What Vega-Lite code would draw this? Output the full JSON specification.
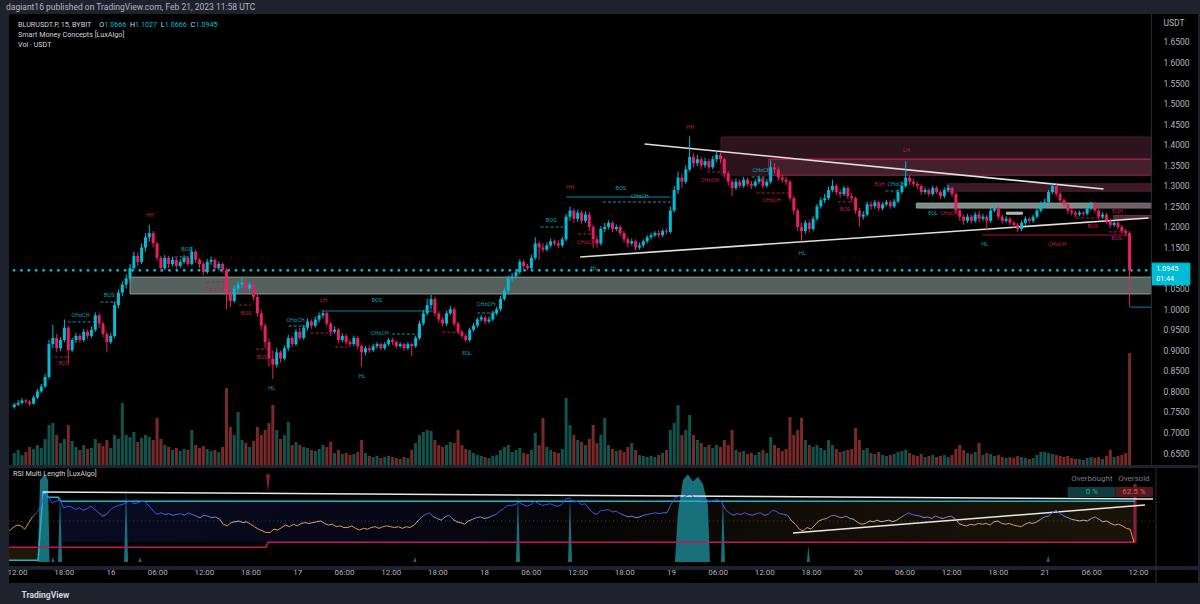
{
"$schema":"https://vega.github.io/schema/vega-lite/v6.json",
"background":"#1e222d",
"padding":{"left":6,"right":5,"top":3,"bottom":7},
"spacing":1,
"title":{"text":"dagiant16 published on TradingView.com, Feb 21, 2023 11:58 UTC","anchor":"start","fontSize":8.5,"fontWeight":"normal","color":"#b2b5be","font":"Roboto","offset":2},
"config":{"view":{"fill":"#000000","stroke":null},"font":"Roboto","axis":{"domain":false,"ticks":false,"grid":false,"labelColor":"#b2b5be","labelFont":"Roboto","labelFontSize":8.5,"titleColor":"#b2b5be","titleFont":"Roboto","titleFontSize":8.5,"titleFontWeight":"normal"}},
"resolve":{"scale":{"color":"independent","stroke":"independent","strokeDash":"independent"}},
"datasets":{
"c":[
{"t":"2023-02-15T11:00","o":0.762,"h":0.772,"l":0.758,"c":0.768,"q":120,"v":38},
{"t":"2023-02-15T11:30","o":0.768,"h":0.779,"l":0.764,"c":0.772,"q":150,"v":42},
{"t":"2023-02-15T12:00","o":0.772,"h":0.784,"l":0.768,"c":0.778,"q":100,"v":45},
{"t":"2023-02-15T12:30","o":0.778,"h":0.782,"l":0.770,"c":0.775,"q":130,"v":44},
{"t":"2023-02-15T13:00","o":0.775,"h":0.779,"l":0.764,"c":0.770,"q":180,"v":40},
{"t":"2023-02-15T13:30","o":0.770,"h":0.790,"l":0.768,"c":0.785,"q":160,"v":48},
{"t":"2023-02-15T14:00","o":0.785,"h":0.806,"l":0.781,"c":0.800,"q":200,"v":55},
{"t":"2023-02-15T14:30","o":0.800,"h":0.818,"l":0.796,"c":0.812,"q":170,"v":60},
{"t":"2023-02-15T15:00","o":0.812,"h":0.842,"l":0.808,"c":0.835,"q":260,"v":66},
{"t":"2023-02-15T15:30","o":0.835,"h":0.925,"l":0.830,"c":0.915,"q":400,"v":82},
{"t":"2023-02-15T16:00","o":0.915,"h":0.962,"l":0.905,"c":0.930,"q":420,"v":80},
{"t":"2023-02-15T16:30","o":0.930,"h":0.940,"l":0.895,"c":0.905,"q":300,"v":72},
{"t":"2023-02-15T17:00","o":0.905,"h":0.932,"l":0.898,"c":0.925,"q":220,"v":74},
{"t":"2023-02-15T17:30","o":0.925,"h":0.975,"l":0.920,"c":0.955,"q":260,"v":76},
{"t":"2023-02-15T18:00","o":0.955,"h":0.960,"l":0.870,"c":0.900,"q":400,"v":66},
{"t":"2023-02-15T18:30","o":0.900,"h":0.930,"l":0.895,"c":0.925,"q":240,"v":68},
{"t":"2023-02-15T19:00","o":0.925,"h":0.942,"l":0.918,"c":0.935,"q":180,"v":67},
{"t":"2023-02-15T19:30","o":0.935,"h":0.940,"l":0.918,"c":0.925,"q":150,"v":64},
{"t":"2023-02-15T20:00","o":0.925,"h":0.952,"l":0.920,"c":0.945,"q":200,"v":66},
{"t":"2023-02-15T20:30","o":0.945,"h":0.950,"l":0.928,"c":0.935,"q":160,"v":63},
{"t":"2023-02-15T21:00","o":0.935,"h":0.958,"l":0.930,"c":0.950,"q":170,"v":65},
{"t":"2023-02-15T21:30","o":0.950,"h":0.992,"l":0.945,"c":0.985,"q":260,"v":68},
{"t":"2023-02-15T22:00","o":0.985,"h":0.990,"l":0.955,"c":0.965,"q":220,"v":64},
{"t":"2023-02-15T22:30","o":0.965,"h":0.970,"l":0.932,"c":0.940,"q":190,"v":60},
{"t":"2023-02-15T23:00","o":0.940,"h":0.945,"l":0.895,"c":0.920,"q":250,"v":56},
{"t":"2023-02-15T23:30","o":0.920,"h":0.942,"l":0.915,"c":0.935,"q":170,"v":58},
{"t":"2023-02-16T00:00","o":0.935,"h":1.018,"l":0.930,"c":1.010,"q":300,"v":64},
{"t":"2023-02-16T00:30","o":1.010,"h":1.048,"l":1.002,"c":1.040,"q":260,"v":67},
{"t":"2023-02-16T01:00","o":1.040,"h":1.068,"l":1.032,"c":1.060,"q":620,"v":69},
{"t":"2023-02-16T01:30","o":1.060,"h":1.085,"l":1.050,"c":1.075,"q":300,"v":70},
{"t":"2023-02-16T02:00","o":1.075,"h":1.110,"l":1.068,"c":1.100,"q":280,"v":72},
{"t":"2023-02-16T02:30","o":1.100,"h":1.140,"l":1.095,"c":1.130,"q":330,"v":75},
{"t":"2023-02-16T03:00","o":1.130,"h":1.138,"l":1.105,"c":1.115,"q":230,"v":71},
{"t":"2023-02-16T03:30","o":1.115,"h":1.160,"l":1.110,"c":1.150,"q":270,"v":72},
{"t":"2023-02-16T04:00","o":1.150,"h":1.185,"l":1.140,"c":1.175,"q":300,"v":74},
{"t":"2023-02-16T04:30","o":1.175,"h":1.205,"l":1.165,"c":1.185,"q":280,"v":73},
{"t":"2023-02-16T05:00","o":1.185,"h":1.190,"l":1.150,"c":1.160,"q":250,"v":68},
{"t":"2023-02-16T05:30","o":1.160,"h":1.165,"l":1.118,"c":1.125,"q":470,"v":62},
{"t":"2023-02-16T06:00","o":1.125,"h":1.130,"l":1.090,"c":1.100,"q":260,"v":58},
{"t":"2023-02-16T06:30","o":1.100,"h":1.132,"l":1.095,"c":1.125,"q":200,"v":60},
{"t":"2023-02-16T07:00","o":1.125,"h":1.130,"l":1.100,"c":1.110,"q":180,"v":58},
{"t":"2023-02-16T07:30","o":1.110,"h":1.128,"l":1.104,"c":1.120,"q":150,"v":59},
{"t":"2023-02-16T08:00","o":1.120,"h":1.125,"l":1.098,"c":1.105,"q":170,"v":57},
{"t":"2023-02-16T08:30","o":1.105,"h":1.122,"l":1.100,"c":1.115,"q":140,"v":58},
{"t":"2023-02-16T09:00","o":1.115,"h":1.132,"l":1.110,"c":1.125,"q":160,"v":59},
{"t":"2023-02-16T09:30","o":1.125,"h":1.130,"l":1.104,"c":1.110,"q":150,"v":57},
{"t":"2023-02-16T10:00","o":1.110,"h":1.152,"l":1.106,"c":1.140,"q":350,"v":60},
{"t":"2023-02-16T10:30","o":1.140,"h":1.145,"l":1.112,"c":1.120,"q":200,"v":58},
{"t":"2023-02-16T11:00","o":1.120,"h":1.124,"l":1.100,"c":1.110,"q":170,"v":56},
{"t":"2023-02-16T11:30","o":1.110,"h":1.115,"l":1.082,"c":1.090,"q":190,"v":54},
{"t":"2023-02-16T12:00","o":1.090,"h":1.122,"l":1.086,"c":1.115,"q":160,"v":57},
{"t":"2023-02-16T12:30","o":1.115,"h":1.128,"l":1.108,"c":1.120,"q":140,"v":56},
{"t":"2023-02-16T13:00","o":1.120,"h":1.125,"l":1.094,"c":1.100,"q":150,"v":54},
{"t":"2023-02-16T13:30","o":1.100,"h":1.116,"l":1.095,"c":1.110,"q":130,"v":55},
{"t":"2023-02-16T14:00","o":1.110,"h":1.114,"l":1.088,"c":1.095,"q":180,"v":52},
{"t":"2023-02-16T14:30","o":1.095,"h":1.100,"l":1.000,"c":1.040,"q":770,"v":46},
{"t":"2023-02-16T15:00","o":1.040,"h":1.048,"l":1.005,"c":1.020,"q":380,"v":44},
{"t":"2023-02-16T15:30","o":1.020,"h":1.058,"l":1.015,"c":1.050,"q":300,"v":48},
{"t":"2023-02-16T16:00","o":1.050,"h":1.068,"l":1.040,"c":1.060,"q":530,"v":49},
{"t":"2023-02-16T16:30","o":1.060,"h":1.075,"l":1.052,"c":1.065,"q":250,"v":50},
{"t":"2023-02-16T17:00","o":1.065,"h":1.070,"l":1.042,"c":1.050,"q":220,"v":48},
{"t":"2023-02-16T17:30","o":1.050,"h":1.066,"l":1.044,"c":1.060,"q":180,"v":49},
{"t":"2023-02-16T18:00","o":1.060,"h":1.064,"l":1.022,"c":1.030,"q":240,"v":46},
{"t":"2023-02-16T18:30","o":1.030,"h":1.036,"l":0.982,"c":0.990,"q":380,"v":43},
{"t":"2023-02-16T19:00","o":0.990,"h":0.998,"l":0.950,"c":0.960,"q":300,"v":40},
{"t":"2023-02-16T19:30","o":0.960,"h":0.966,"l":0.905,"c":0.920,"q":350,"v":38},
{"t":"2023-02-16T20:00","o":0.920,"h":0.928,"l":0.860,"c":0.880,"q":420,"v":36},
{"t":"2023-02-16T20:30","o":0.880,"h":0.900,"l":0.830,"c":0.865,"q":600,"v":36},
{"t":"2023-02-16T21:00","o":0.865,"h":0.905,"l":0.858,"c":0.895,"q":350,"v":40},
{"t":"2023-02-16T21:30","o":0.895,"h":0.900,"l":0.870,"c":0.880,"q":260,"v":39},
{"t":"2023-02-16T22:00","o":0.880,"h":0.912,"l":0.875,"c":0.905,"q":300,"v":42},
{"t":"2023-02-16T22:30","o":0.905,"h":0.938,"l":0.898,"c":0.930,"q":430,"v":45},
{"t":"2023-02-16T23:00","o":0.930,"h":0.935,"l":0.908,"c":0.915,"q":200,"v":43},
{"t":"2023-02-16T23:30","o":0.915,"h":0.952,"l":0.910,"c":0.945,"q":230,"v":46},
{"t":"2023-02-17T00:00","o":0.945,"h":0.955,"l":0.924,"c":0.930,"q":200,"v":44},
{"t":"2023-02-17T00:30","o":0.930,"h":0.962,"l":0.925,"c":0.955,"q":180,"v":47},
{"t":"2023-02-17T01:00","o":0.955,"h":0.978,"l":0.948,"c":0.970,"q":170,"v":48},
{"t":"2023-02-17T01:30","o":0.970,"h":0.975,"l":0.952,"c":0.960,"q":150,"v":47},
{"t":"2023-02-17T02:00","o":0.960,"h":0.982,"l":0.955,"c":0.975,"q":140,"v":48},
{"t":"2023-02-17T02:30","o":0.975,"h":0.992,"l":0.968,"c":0.985,"q":160,"v":49},
{"t":"2023-02-17T03:00","o":0.985,"h":0.998,"l":0.978,"c":0.990,"q":200,"v":50},
{"t":"2023-02-17T03:30","o":0.990,"h":0.994,"l":0.958,"c":0.965,"q":180,"v":47},
{"t":"2023-02-17T04:00","o":0.965,"h":0.970,"l":0.935,"c":0.945,"q":230,"v":45},
{"t":"2023-02-17T04:30","o":0.945,"h":0.958,"l":0.940,"c":0.950,"q":120,"v":46},
{"t":"2023-02-17T05:00","o":0.950,"h":0.955,"l":0.918,"c":0.925,"q":150,"v":43},
{"t":"2023-02-17T05:30","o":0.925,"h":0.942,"l":0.920,"c":0.935,"q":110,"v":44},
{"t":"2023-02-17T06:00","o":0.935,"h":0.940,"l":0.914,"c":0.920,"q":120,"v":42},
{"t":"2023-02-17T06:30","o":0.920,"h":0.926,"l":0.908,"c":0.915,"q":100,"v":42},
{"t":"2023-02-17T07:00","o":0.915,"h":0.936,"l":0.910,"c":0.930,"q":110,"v":44},
{"t":"2023-02-17T07:30","o":0.930,"h":0.934,"l":0.902,"c":0.910,"q":130,"v":41},
{"t":"2023-02-17T08:00","o":0.910,"h":0.914,"l":0.860,"c":0.895,"q":250,"v":39},
{"t":"2023-02-17T08:30","o":0.895,"h":0.910,"l":0.888,"c":0.905,"q":120,"v":41},
{"t":"2023-02-17T09:00","o":0.905,"h":0.912,"l":0.894,"c":0.900,"q":90,"v":40},
{"t":"2023-02-17T09:30","o":0.900,"h":0.916,"l":0.896,"c":0.910,"q":80,"v":42},
{"t":"2023-02-17T10:00","o":0.910,"h":0.920,"l":0.904,"c":0.915,"q":90,"v":43},
{"t":"2023-02-17T10:30","o":0.915,"h":0.918,"l":0.900,"c":0.905,"q":70,"v":41},
{"t":"2023-02-17T11:00","o":0.905,"h":0.920,"l":0.900,"c":0.915,"q":80,"v":43},
{"t":"2023-02-17T11:30","o":0.915,"h":0.930,"l":0.910,"c":0.925,"q":90,"v":44},
{"t":"2023-02-17T12:00","o":0.925,"h":0.930,"l":0.913,"c":0.920,"q":80,"v":43},
{"t":"2023-02-17T12:30","o":0.920,"h":0.924,"l":0.904,"c":0.910,"q":70,"v":42},
{"t":"2023-02-17T13:00","o":0.910,"h":0.920,"l":0.906,"c":0.915,"q":60,"v":43},
{"t":"2023-02-17T13:30","o":0.915,"h":0.918,"l":0.898,"c":0.905,"q":80,"v":41},
{"t":"2023-02-17T14:00","o":0.905,"h":0.920,"l":0.900,"c":0.915,"q":70,"v":43},
{"t":"2023-02-17T14:30","o":0.915,"h":0.918,"l":0.885,"c":0.910,"q":150,"v":42},
{"t":"2023-02-17T15:00","o":0.910,"h":0.936,"l":0.906,"c":0.930,"q":220,"v":45},
{"t":"2023-02-17T15:30","o":0.930,"h":0.972,"l":0.925,"c":0.965,"q":300,"v":50},
{"t":"2023-02-17T16:00","o":0.965,"h":0.998,"l":0.960,"c":0.990,"q":330,"v":55},
{"t":"2023-02-17T16:30","o":0.990,"h":1.025,"l":0.985,"c":1.010,"q":350,"v":58},
{"t":"2023-02-17T17:00","o":1.010,"h":1.035,"l":1.000,"c":1.025,"q":340,"v":60},
{"t":"2023-02-17T17:30","o":1.025,"h":1.030,"l":0.982,"c":0.990,"q":250,"v":55},
{"t":"2023-02-17T18:00","o":0.990,"h":0.995,"l":0.968,"c":0.975,"q":200,"v":53},
{"t":"2023-02-17T18:30","o":0.975,"h":0.980,"l":0.958,"c":0.965,"q":180,"v":51},
{"t":"2023-02-17T19:00","o":0.965,"h":0.996,"l":0.960,"c":0.990,"q":200,"v":55},
{"t":"2023-02-17T19:30","o":0.990,"h":1.008,"l":0.985,"c":1.000,"q":230,"v":57},
{"t":"2023-02-17T20:00","o":1.000,"h":1.004,"l":0.958,"c":0.965,"q":220,"v":52},
{"t":"2023-02-17T20:30","o":0.965,"h":0.970,"l":0.938,"c":0.945,"q":350,"v":49},
{"t":"2023-02-17T21:00","o":0.945,"h":0.950,"l":0.928,"c":0.935,"q":200,"v":48},
{"t":"2023-02-17T21:30","o":0.935,"h":0.940,"l":0.920,"c":0.925,"q":160,"v":46},
{"t":"2023-02-17T22:00","o":0.925,"h":0.955,"l":0.920,"c":0.950,"q":150,"v":50},
{"t":"2023-02-17T22:30","o":0.950,"h":0.966,"l":0.945,"c":0.960,"q":120,"v":52},
{"t":"2023-02-17T23:00","o":0.960,"h":0.980,"l":0.955,"c":0.975,"q":100,"v":54},
{"t":"2023-02-17T23:30","o":0.975,"h":0.986,"l":0.970,"c":0.980,"q":90,"v":55},
{"t":"2023-02-18T00:00","o":0.980,"h":0.985,"l":0.964,"c":0.970,"q":80,"v":53},
{"t":"2023-02-18T00:30","o":0.970,"h":0.982,"l":0.966,"c":0.975,"q":70,"v":54},
{"t":"2023-02-18T01:00","o":0.975,"h":0.996,"l":0.970,"c":0.990,"q":90,"v":56},
{"t":"2023-02-18T01:30","o":0.990,"h":1.006,"l":0.985,"c":1.000,"q":100,"v":58},
{"t":"2023-02-18T02:00","o":1.000,"h":1.032,"l":0.995,"c":1.025,"q":150,"v":62},
{"t":"2023-02-18T02:30","o":1.025,"h":1.052,"l":1.020,"c":1.045,"q":180,"v":65},
{"t":"2023-02-18T03:00","o":1.045,"h":1.082,"l":1.040,"c":1.075,"q":200,"v":69},
{"t":"2023-02-18T03:30","o":1.075,"h":1.088,"l":1.068,"c":1.080,"q":130,"v":69},
{"t":"2023-02-18T04:00","o":1.080,"h":1.098,"l":1.074,"c":1.090,"q":150,"v":70},
{"t":"2023-02-18T04:30","o":1.090,"h":1.122,"l":1.085,"c":1.115,"q":170,"v":73},
{"t":"2023-02-18T05:00","o":1.115,"h":1.120,"l":1.098,"c":1.105,"q":120,"v":70},
{"t":"2023-02-18T05:30","o":1.105,"h":1.110,"l":1.094,"c":1.100,"q":110,"v":68},
{"t":"2023-02-18T06:00","o":1.100,"h":1.132,"l":1.096,"c":1.125,"q":150,"v":70},
{"t":"2023-02-18T06:30","o":1.125,"h":1.175,"l":1.120,"c":1.160,"q":320,"v":74},
{"t":"2023-02-18T07:00","o":1.160,"h":1.165,"l":1.120,"c":1.150,"q":200,"v":71},
{"t":"2023-02-18T07:30","o":1.150,"h":1.160,"l":1.138,"c":1.145,"q":470,"v":69},
{"t":"2023-02-18T08:00","o":1.145,"h":1.162,"l":1.140,"c":1.155,"q":180,"v":70},
{"t":"2023-02-18T08:30","o":1.155,"h":1.172,"l":1.150,"c":1.165,"q":150,"v":71},
{"t":"2023-02-18T09:00","o":1.165,"h":1.170,"l":1.154,"c":1.160,"q":130,"v":69},
{"t":"2023-02-18T09:30","o":1.160,"h":1.168,"l":1.148,"c":1.155,"q":120,"v":68},
{"t":"2023-02-18T10:00","o":1.155,"h":1.176,"l":1.150,"c":1.170,"q":160,"v":70},
{"t":"2023-02-18T10:30","o":1.170,"h":1.232,"l":1.165,"c":1.225,"q":670,"v":77},
{"t":"2023-02-18T11:00","o":1.225,"h":1.250,"l":1.215,"c":1.240,"q":400,"v":78},
{"t":"2023-02-18T11:30","o":1.240,"h":1.245,"l":1.210,"c":1.220,"q":300,"v":73},
{"t":"2023-02-18T12:00","o":1.220,"h":1.242,"l":1.212,"c":1.235,"q":250,"v":74},
{"t":"2023-02-18T12:30","o":1.235,"h":1.240,"l":1.208,"c":1.215,"q":230,"v":70},
{"t":"2023-02-18T13:00","o":1.215,"h":1.238,"l":1.210,"c":1.230,"q":200,"v":71},
{"t":"2023-02-18T13:30","o":1.230,"h":1.236,"l":1.190,"c":1.200,"q":260,"v":65},
{"t":"2023-02-18T14:00","o":1.200,"h":1.205,"l":1.150,"c":1.170,"q":400,"v":60},
{"t":"2023-02-18T14:30","o":1.170,"h":1.178,"l":1.150,"c":1.160,"q":220,"v":58},
{"t":"2023-02-18T15:00","o":1.160,"h":1.202,"l":1.155,"c":1.195,"q":300,"v":63},
{"t":"2023-02-18T15:30","o":1.195,"h":1.210,"l":1.188,"c":1.200,"q":470,"v":63},
{"t":"2023-02-18T16:00","o":1.200,"h":1.216,"l":1.194,"c":1.210,"q":200,"v":64},
{"t":"2023-02-18T16:30","o":1.210,"h":1.214,"l":1.188,"c":1.195,"q":160,"v":61},
{"t":"2023-02-18T17:00","o":1.195,"h":1.206,"l":1.190,"c":1.200,"q":140,"v":62},
{"t":"2023-02-18T17:30","o":1.200,"h":1.204,"l":1.178,"c":1.185,"q":150,"v":59},
{"t":"2023-02-18T18:00","o":1.185,"h":1.190,"l":1.162,"c":1.170,"q":130,"v":57},
{"t":"2023-02-18T18:30","o":1.170,"h":1.176,"l":1.150,"c":1.160,"q":180,"v":55},
{"t":"2023-02-18T19:00","o":1.160,"h":1.172,"l":1.155,"c":1.165,"q":220,"v":56},
{"t":"2023-02-18T19:30","o":1.165,"h":1.170,"l":1.142,"c":1.150,"q":150,"v":54},
{"t":"2023-02-18T20:00","o":1.150,"h":1.162,"l":1.145,"c":1.155,"q":100,"v":55},
{"t":"2023-02-18T20:30","o":1.155,"h":1.170,"l":1.150,"c":1.165,"q":90,"v":57},
{"t":"2023-02-18T21:00","o":1.165,"h":1.180,"l":1.160,"c":1.175,"q":80,"v":58},
{"t":"2023-02-18T21:30","o":1.175,"h":1.186,"l":1.170,"c":1.180,"q":90,"v":59},
{"t":"2023-02-18T22:00","o":1.180,"h":1.190,"l":1.175,"c":1.185,"q":80,"v":60},
{"t":"2023-02-18T22:30","o":1.185,"h":1.192,"l":1.174,"c":1.180,"q":100,"v":59},
{"t":"2023-02-18T23:00","o":1.180,"h":1.195,"l":1.176,"c":1.190,"q":120,"v":60},
{"t":"2023-02-18T23:30","o":1.190,"h":1.196,"l":1.182,"c":1.188,"q":150,"v":60},
{"t":"2023-02-19T00:00","o":1.188,"h":1.250,"l":1.184,"c":1.240,"q":350,"v":70},
{"t":"2023-02-19T00:30","o":1.240,"h":1.300,"l":1.235,"c":1.290,"q":420,"v":77},
{"t":"2023-02-19T01:00","o":1.290,"h":1.335,"l":1.280,"c":1.320,"q":600,"v":80},
{"t":"2023-02-19T01:30","o":1.320,"h":1.330,"l":1.295,"c":1.310,"q":300,"v":78},
{"t":"2023-02-19T02:00","o":1.310,"h":1.350,"l":1.305,"c":1.340,"q":350,"v":81},
{"t":"2023-02-19T02:30","o":1.340,"h":1.420,"l":1.335,"c":1.370,"q":500,"v":83},
{"t":"2023-02-19T03:00","o":1.370,"h":1.380,"l":1.345,"c":1.355,"q":300,"v":78},
{"t":"2023-02-19T03:30","o":1.355,"h":1.375,"l":1.348,"c":1.365,"q":250,"v":79},
{"t":"2023-02-19T04:00","o":1.365,"h":1.370,"l":1.340,"c":1.350,"q":220,"v":75},
{"t":"2023-02-19T04:30","o":1.350,"h":1.368,"l":1.344,"c":1.360,"q":180,"v":76},
{"t":"2023-02-19T05:00","o":1.360,"h":1.366,"l":1.338,"c":1.345,"q":200,"v":73},
{"t":"2023-02-19T05:30","o":1.345,"h":1.372,"l":1.340,"c":1.365,"q":170,"v":75},
{"t":"2023-02-19T06:00","o":1.365,"h":1.385,"l":1.358,"c":1.375,"q":200,"v":76},
{"t":"2023-02-19T06:30","o":1.375,"h":1.380,"l":1.355,"c":1.365,"q":180,"v":73},
{"t":"2023-02-19T07:00","o":1.365,"h":1.368,"l":1.320,"c":1.330,"q":250,"v":64},
{"t":"2023-02-19T07:30","o":1.330,"h":1.336,"l":1.300,"c":1.310,"q":200,"v":60},
{"t":"2023-02-19T08:00","o":1.310,"h":1.316,"l":1.275,"c":1.295,"q":350,"v":57},
{"t":"2023-02-19T08:30","o":1.295,"h":1.318,"l":1.290,"c":1.310,"q":150,"v":59},
{"t":"2023-02-19T09:00","o":1.310,"h":1.316,"l":1.294,"c":1.300,"q":130,"v":58},
{"t":"2023-02-19T09:30","o":1.300,"h":1.322,"l":1.295,"c":1.315,"q":140,"v":60},
{"t":"2023-02-19T10:00","o":1.315,"h":1.320,"l":1.298,"c":1.305,"q":110,"v":58},
{"t":"2023-02-19T10:30","o":1.305,"h":1.312,"l":1.292,"c":1.300,"q":120,"v":57},
{"t":"2023-02-19T11:00","o":1.300,"h":1.316,"l":1.296,"c":1.310,"q":100,"v":59},
{"t":"2023-02-19T11:30","o":1.310,"h":1.325,"l":1.305,"c":1.318,"q":130,"v":60},
{"t":"2023-02-19T12:00","o":1.318,"h":1.322,"l":1.294,"c":1.300,"q":150,"v":57},
{"t":"2023-02-19T12:30","o":1.300,"h":1.316,"l":1.295,"c":1.310,"q":120,"v":58},
{"t":"2023-02-19T13:00","o":1.310,"h":1.362,"l":1.305,"c":1.345,"q":280,"v":63},
{"t":"2023-02-19T13:30","o":1.345,"h":1.355,"l":1.330,"c":1.340,"q":200,"v":62},
{"t":"2023-02-19T14:00","o":1.340,"h":1.345,"l":1.312,"c":1.320,"q":170,"v":59},
{"t":"2023-02-19T14:30","o":1.320,"h":1.328,"l":1.308,"c":1.315,"q":140,"v":58},
{"t":"2023-02-19T15:00","o":1.315,"h":1.322,"l":1.302,"c":1.310,"q":160,"v":57},
{"t":"2023-02-19T15:30","o":1.310,"h":1.315,"l":1.262,"c":1.270,"q":480,"v":50},
{"t":"2023-02-19T16:00","o":1.270,"h":1.276,"l":1.230,"c":1.240,"q":300,"v":46},
{"t":"2023-02-19T16:30","o":1.240,"h":1.245,"l":1.190,"c":1.200,"q":350,"v":40},
{"t":"2023-02-19T17:00","o":1.200,"h":1.210,"l":1.165,"c":1.190,"q":470,"v":38},
{"t":"2023-02-19T17:30","o":1.190,"h":1.216,"l":1.184,"c":1.210,"q":250,"v":42},
{"t":"2023-02-19T18:00","o":1.210,"h":1.215,"l":1.186,"c":1.195,"q":200,"v":40},
{"t":"2023-02-19T18:30","o":1.195,"h":1.226,"l":1.190,"c":1.220,"q":180,"v":45},
{"t":"2023-02-19T19:00","o":1.220,"h":1.256,"l":1.215,"c":1.250,"q":200,"v":50},
{"t":"2023-02-19T19:30","o":1.250,"h":1.272,"l":1.244,"c":1.265,"q":170,"v":52},
{"t":"2023-02-19T20:00","o":1.265,"h":1.280,"l":1.258,"c":1.270,"q":150,"v":53},
{"t":"2023-02-19T20:30","o":1.270,"h":1.298,"l":1.265,"c":1.290,"q":250,"v":56},
{"t":"2023-02-19T21:00","o":1.290,"h":1.315,"l":1.284,"c":1.300,"q":200,"v":57},
{"t":"2023-02-19T21:30","o":1.300,"h":1.305,"l":1.278,"c":1.285,"q":160,"v":55},
{"t":"2023-02-19T22:00","o":1.285,"h":1.292,"l":1.272,"c":1.280,"q":130,"v":54},
{"t":"2023-02-19T22:30","o":1.280,"h":1.300,"l":1.275,"c":1.295,"q":140,"v":56},
{"t":"2023-02-19T23:00","o":1.295,"h":1.300,"l":1.268,"c":1.275,"q":150,"v":53},
{"t":"2023-02-19T23:30","o":1.275,"h":1.282,"l":1.262,"c":1.270,"q":160,"v":52},
{"t":"2023-02-20T00:00","o":1.270,"h":1.274,"l":1.232,"c":1.240,"q":370,"v":48},
{"t":"2023-02-20T00:30","o":1.240,"h":1.246,"l":1.200,"c":1.225,"q":250,"v":46},
{"t":"2023-02-20T01:00","o":1.225,"h":1.238,"l":1.218,"c":1.230,"q":150,"v":47},
{"t":"2023-02-20T01:30","o":1.230,"h":1.262,"l":1.226,"c":1.255,"q":170,"v":50},
{"t":"2023-02-20T02:00","o":1.255,"h":1.262,"l":1.242,"c":1.250,"q":120,"v":49},
{"t":"2023-02-20T02:30","o":1.250,"h":1.266,"l":1.244,"c":1.260,"q":110,"v":51},
{"t":"2023-02-20T03:00","o":1.260,"h":1.264,"l":1.238,"c":1.245,"q":130,"v":49},
{"t":"2023-02-20T03:30","o":1.245,"h":1.260,"l":1.240,"c":1.255,"q":100,"v":50},
{"t":"2023-02-20T04:00","o":1.255,"h":1.266,"l":1.250,"c":1.260,"q":90,"v":51},
{"t":"2023-02-20T04:30","o":1.260,"h":1.265,"l":1.244,"c":1.250,"q":100,"v":49},
{"t":"2023-02-20T05:00","o":1.250,"h":1.268,"l":1.246,"c":1.262,"q":110,"v":51},
{"t":"2023-02-20T05:30","o":1.262,"h":1.292,"l":1.258,"c":1.285,"q":130,"v":54},
{"t":"2023-02-20T06:00","o":1.285,"h":1.310,"l":1.280,"c":1.300,"q":140,"v":57},
{"t":"2023-02-20T06:30","o":1.300,"h":1.360,"l":1.295,"c":1.320,"q":150,"v":60},
{"t":"2023-02-20T07:00","o":1.320,"h":1.326,"l":1.302,"c":1.310,"q":120,"v":58},
{"t":"2023-02-20T07:30","o":1.310,"h":1.316,"l":1.298,"c":1.305,"q":100,"v":57},
{"t":"2023-02-20T08:00","o":1.305,"h":1.310,"l":1.292,"c":1.300,"q":90,"v":56},
{"t":"2023-02-20T08:30","o":1.300,"h":1.304,"l":1.278,"c":1.285,"q":110,"v":54},
{"t":"2023-02-20T09:00","o":1.285,"h":1.296,"l":1.280,"c":1.290,"q":80,"v":55},
{"t":"2023-02-20T09:30","o":1.290,"h":1.294,"l":1.274,"c":1.280,"q":90,"v":53},
{"t":"2023-02-20T10:00","o":1.280,"h":1.300,"l":1.276,"c":1.295,"q":100,"v":56},
{"t":"2023-02-20T10:30","o":1.295,"h":1.300,"l":1.280,"c":1.285,"q":80,"v":54},
{"t":"2023-02-20T11:00","o":1.285,"h":1.290,"l":1.268,"c":1.275,"q":90,"v":53},
{"t":"2023-02-20T11:30","o":1.275,"h":1.296,"l":1.270,"c":1.290,"q":100,"v":55},
{"t":"2023-02-20T12:00","o":1.290,"h":1.302,"l":1.284,"c":1.295,"q":80,"v":56},
{"t":"2023-02-20T12:30","o":1.295,"h":1.298,"l":1.274,"c":1.280,"q":100,"v":53},
{"t":"2023-02-20T13:00","o":1.280,"h":1.284,"l":1.232,"c":1.240,"q":160,"v":47},
{"t":"2023-02-20T13:30","o":1.240,"h":1.246,"l":1.215,"c":1.225,"q":200,"v":45},
{"t":"2023-02-20T14:00","o":1.225,"h":1.230,"l":1.205,"c":1.215,"q":150,"v":44},
{"t":"2023-02-20T14:30","o":1.215,"h":1.232,"l":1.210,"c":1.225,"q":120,"v":46},
{"t":"2023-02-20T15:00","o":1.225,"h":1.230,"l":1.208,"c":1.215,"q":110,"v":45},
{"t":"2023-02-20T15:30","o":1.215,"h":1.236,"l":1.210,"c":1.230,"q":130,"v":47},
{"t":"2023-02-20T16:00","o":1.230,"h":1.240,"l":1.212,"c":1.220,"q":220,"v":46},
{"t":"2023-02-20T16:30","o":1.220,"h":1.232,"l":1.214,"c":1.225,"q":100,"v":47},
{"t":"2023-02-20T17:00","o":1.225,"h":1.230,"l":1.190,"c":1.215,"q":120,"v":45},
{"t":"2023-02-20T17:30","o":1.215,"h":1.248,"l":1.210,"c":1.240,"q":110,"v":49},
{"t":"2023-02-20T18:00","o":1.240,"h":1.252,"l":1.236,"c":1.245,"q":90,"v":50},
{"t":"2023-02-20T18:30","o":1.245,"h":1.250,"l":1.218,"c":1.225,"q":100,"v":47},
{"t":"2023-02-20T19:00","o":1.225,"h":1.230,"l":1.208,"c":1.215,"q":80,"v":46},
{"t":"2023-02-20T19:30","o":1.215,"h":1.226,"l":1.210,"c":1.220,"q":70,"v":47},
{"t":"2023-02-20T20:00","o":1.220,"h":1.224,"l":1.204,"c":1.210,"q":80,"v":45},
{"t":"2023-02-20T20:30","o":1.210,"h":1.215,"l":1.198,"c":1.205,"q":70,"v":44},
{"t":"2023-02-20T21:00","o":1.205,"h":1.210,"l":1.188,"c":1.195,"q":90,"v":43},
{"t":"2023-02-20T21:30","o":1.195,"h":1.216,"l":1.190,"c":1.210,"q":80,"v":46},
{"t":"2023-02-20T22:00","o":1.210,"h":1.226,"l":1.205,"c":1.220,"q":70,"v":48},
{"t":"2023-02-20T22:30","o":1.220,"h":1.224,"l":1.208,"c":1.215,"q":60,"v":47},
{"t":"2023-02-20T23:00","o":1.215,"h":1.230,"l":1.210,"c":1.225,"q":70,"v":49},
{"t":"2023-02-20T23:30","o":1.225,"h":1.246,"l":1.220,"c":1.240,"q":100,"v":52},
{"t":"2023-02-21T00:00","o":1.240,"h":1.262,"l":1.235,"c":1.255,"q":130,"v":55},
{"t":"2023-02-21T00:30","o":1.255,"h":1.268,"l":1.250,"c":1.260,"q":130,"v":56},
{"t":"2023-02-21T01:00","o":1.260,"h":1.290,"l":1.255,"c":1.285,"q":120,"v":60},
{"t":"2023-02-21T01:30","o":1.285,"h":1.308,"l":1.280,"c":1.300,"q":110,"v":63},
{"t":"2023-02-21T02:00","o":1.300,"h":1.304,"l":1.274,"c":1.280,"q":100,"v":59},
{"t":"2023-02-21T02:30","o":1.280,"h":1.285,"l":1.258,"c":1.265,"q":90,"v":56},
{"t":"2023-02-21T03:00","o":1.265,"h":1.270,"l":1.248,"c":1.255,"q":80,"v":54},
{"t":"2023-02-21T03:30","o":1.255,"h":1.260,"l":1.232,"c":1.240,"q":90,"v":52},
{"t":"2023-02-21T04:00","o":1.240,"h":1.245,"l":1.228,"c":1.235,"q":70,"v":51},
{"t":"2023-02-21T04:30","o":1.235,"h":1.240,"l":1.224,"c":1.230,"q":60,"v":50},
{"t":"2023-02-21T05:00","o":1.230,"h":1.240,"l":1.226,"c":1.235,"q":60,"v":51},
{"t":"2023-02-21T05:30","o":1.235,"h":1.238,"l":1.226,"c":1.232,"q":50,"v":50},
{"t":"2023-02-21T06:00","o":1.232,"h":1.250,"l":1.228,"c":1.245,"q":70,"v":53},
{"t":"2023-02-21T06:30","o":1.245,"h":1.262,"l":1.240,"c":1.255,"q":80,"v":55},
{"t":"2023-02-21T07:00","o":1.255,"h":1.260,"l":1.234,"c":1.240,"q":70,"v":52},
{"t":"2023-02-21T07:30","o":1.240,"h":1.244,"l":1.218,"c":1.225,"q":80,"v":49},
{"t":"2023-02-21T08:00","o":1.225,"h":1.236,"l":1.220,"c":1.230,"q":60,"v":50},
{"t":"2023-02-21T08:30","o":1.230,"h":1.234,"l":1.208,"c":1.215,"q":90,"v":47},
{"t":"2023-02-21T09:00","o":1.215,"h":1.220,"l":1.198,"c":1.205,"q":150,"v":45},
{"t":"2023-02-21T09:30","o":1.205,"h":1.216,"l":1.200,"c":1.210,"q":80,"v":46},
{"t":"2023-02-21T10:00","o":1.210,"h":1.214,"l":1.194,"c":1.200,"q":90,"v":44},
{"t":"2023-02-21T10:30","o":1.200,"h":1.205,"l":1.184,"c":1.190,"q":100,"v":41},
{"t":"2023-02-21T11:00","o":1.190,"h":1.195,"l":1.178,"c":1.185,"q":120,"v":40},
{"t":"2023-02-21T11:30","o":1.185,"h":1.190,"l":1.005,"c":1.0945,"q":1120,"v":24}
],
"zone":[
{"k":"g","t":"2023-02-16T02:00","t2":"2023-02-21T14:19","p":1.037,"p2":1.078},
{"k":"r1","t":"2023-02-19T06:34","t2":"2023-02-21T14:19","p":1.326,"p2":1.419},
{"k":"r2","t":"2023-02-19T12:44","t2":"2023-02-21T14:19","p":1.326,"p2":1.365},
{"k":"r3","t":"2023-02-20T11:51","t2":"2023-02-21T14:19","p":1.287,"p2":1.305},
{"k":"g2","t":"2023-02-20T07:52","t2":"2023-02-21T06:52","p":1.246,"p2":1.258},
{"k":"g3","t":"2023-02-21T06:52","t2":"2023-02-21T14:19","p":1.246,"p2":1.258},
{"k":"r4","t":"2023-02-21T09:26","t2":"2023-02-21T14:19","p":1.220,"p2":1.228},
{"k":"w","t":"2023-02-20T19:33","t2":"2023-02-20T21:37","p":1.231,"p2":1.236},
{"k":"box","t":"2023-02-21T14:19","t2":"2023-02-21T19:19","p":1.059,"p2":1.112}
],
"seg":[
{"k":"ts","t":"2023-02-18T10:31","t2":"2023-02-19T00:01","p":1.2729},
{"k":"ts","t":"2023-02-17T03:03","t2":"2023-02-17T17:11","p":0.9955},
{"k":"ts","t":"2023-02-21T11:37","t2":"2023-02-21T14:19","p":1.005},
{"k":"td","t":"2023-02-18T15:16","t2":"2023-02-19T00:01","p":1.2607},
{"k":"td","t":"2023-02-18T07:11","t2":"2023-02-18T10:08","p":1.1999},
{"k":"td","t":"2023-02-16T22:33","t2":"2023-02-17T00:44","p":0.959},
{"k":"td","t":"2023-02-17T11:55","t2":"2023-02-17T15:46","p":0.9395},
{"k":"td","t":"2023-02-15T17:55","t2":"2023-02-15T21:23","p":0.969},
{"k":"td","t":"2023-02-15T22:09","t2":"2023-02-16T00:20","p":1.0174},
{"k":"td","t":"2023-02-16T07:47","t2":"2023-02-16T10:37","p":1.1269},
{"k":"td","t":"2023-02-17T22:58","t2":"2023-02-18T01:24","p":0.9906},
{"k":"td","t":"2023-02-19T10:32","t2":"2023-02-19T12:28","p":1.3215},
{"k":"td","t":"2023-02-20T03:53","t2":"2023-02-20T05:49","p":1.2875},
{"k":"cd","t":"2023-02-15T16:14","t2":"2023-02-15T18:17","p":0.8836},
{"k":"cd","t":"2023-02-16T11:53","t2":"2023-02-16T14:28","p":1.0661},
{"k":"cd","t":"2023-02-16T16:08","t2":"2023-02-16T17:40","p":1.010},
{"k":"cd","t":"2023-02-16T18:19","t2":"2023-02-16T20:14","p":0.903},
{"k":"cd","t":"2023-02-17T01:23","t2":"2023-02-17T04:13","p":0.942},
{"k":"cd","t":"2023-02-17T04:35","t2":"2023-02-17T06:08","p":0.908},
{"k":"cd","t":"2023-02-17T18:28","t2":"2023-02-17T20:54","p":0.944},
{"k":"cd","t":"2023-02-18T12:04","t2":"2023-02-18T13:59","p":1.183},
{"k":"cd","t":"2023-02-19T04:46","t2":"2023-02-19T06:56","p":1.3337},
{"k":"cd","t":"2023-02-19T11:11","t2":"2023-02-19T15:17","p":1.2826},
{"k":"cd","t":"2023-02-19T21:42","t2":"2023-02-19T23:46","p":1.261},
{"k":"cd","t":"2023-02-21T04:33","t2":"2023-02-21T08:24","p":1.222},
{"k":"cd","t":"2023-02-21T08:47","t2":"2023-02-21T10:58","p":1.188},
{"k":"cs","t":"2023-02-20T16:28","t2":"2023-02-21T11:37","p":1.1804},
{"k":"pl","t":"2023-02-19T12:44","t2":"2023-02-21T14:19","p":1.365}
],
"tr":[
{"t":"2023-02-18T20:40","t2":"2023-02-21T08:08","p":1.4018,"p2":1.2923},
{"t":"2023-02-18T12:19","t2":"2023-02-21T13:56","p":1.1269,"p2":1.2218}
],
"lab":[
{"t":"2023-02-16T04:34","p":1.229,"s":"HH","k":"c"},
{"t":"2023-02-16T09:19","p":1.146,"s":"BOS","k":"t"},
{"t":"2023-02-15T19:35","p":0.986,"s":"CHoCH","k":"t"},
{"t":"2023-02-15T23:18","p":1.034,"s":"BOS","k":"t"},
{"t":"2023-02-15T17:24","p":0.869,"s":"BOS","k":"c"},
{"t":"2023-02-16T13:03","p":1.049,"s":"CHoCH","k":"c"},
{"t":"2023-02-19T02:35","p":1.443,"s":"HH","k":"c"},
{"t":"2023-02-18T11:02","p":1.297,"s":"HH","k":"c"},
{"t":"2023-02-18T17:35","p":1.295,"s":"BOS","k":"t"},
{"t":"2023-02-18T08:35","p":1.217,"s":"BOS","k":"t"},
{"t":"2023-02-18T14:07","p":1.100,"s":"HL","k":"t"},
{"t":"2023-02-19T17:05","p":1.137,"s":"HL","k":"t"},
{"t":"2023-02-20T06:35","p":1.387,"s":"LH","k":"c"},
{"t":"2023-02-20T16:44","p":1.159,"s":"HL","k":"t"},
{"t":"2023-02-21T02:06","p":1.159,"s":"CHoCH","k":"c"},
{"t":"2023-02-17T03:03","p":1.022,"s":"LH","k":"c"},
{"t":"2023-02-17T09:59","p":1.022,"s":"BOS","k":"t"},
{"t":"2023-02-16T20:22","p":0.808,"s":"HL","k":"t"},
{"t":"2023-02-17T08:04","p":0.837,"s":"HL","k":"t"},
{"t":"2023-02-17T21:40","p":0.893,"s":"EQL","k":"t"},
{"t":"2023-02-18T00:07","p":1.0125,"s":"CHoCH","k":"t"},
{"t":"2023-02-19T13:07","p":1.266,"s":"CHoCH","k":"c"},
{"t":"2023-02-19T11:50","p":1.339,"s":"CHoCH","k":"t"},
{"t":"2023-02-21T09:49","p":1.173,"s":"BOS","k":"c"},
{"t":"2023-02-21T09:56","p":1.239,"s":"EQH","k":"c"},
{"t":"2023-02-20T10:03","p":1.234,"s":"EQL","k":"t"},
{"t":"2023-02-20T12:06","p":1.234,"s":"CHoCH","k":"c"},
{"t":"2023-02-20T03:07","p":1.305,"s":"EQH","k":"c"},
{"t":"2023-02-19T22:37","p":1.244,"s":"BOS","k":"c"},
{"t":"2023-02-19T05:09","p":1.314,"s":"CHoCH","k":"c"},
{"t":"2023-02-16T17:02","p":0.991,"s":"BOS","k":"c"},
{"t":"2023-02-16T19:05","p":0.884,"s":"BOS","k":"c"},
{"t":"2023-02-16T23:27","p":0.974,"s":"CHoCH","k":"t"},
{"t":"2023-02-17T10:22","p":0.942,"s":"CHoCH","k":"t"},
{"t":"2023-02-18T13:05","p":1.1634,"s":"CHoCH","k":"c"},
{"t":"2023-02-18T20:02","p":1.2753,"s":"CHoCH","k":"t"},
{"t":"2023-02-20T05:18","p":1.305,"s":"CHoCH","k":"t"},
{"t":"2023-02-21T06:44","p":1.2023,"s":"BOS","k":"c"}
],
"hd":[
{"t":"2023-02-15T11:29","p":1.6914,"s":"BLURUSDT.P, 15, BYBIT","k":"w"},
{"t":"2023-02-15T22:01","p":1.6914,"s":"O","k":"w"},
{"t":"2023-02-15T22:40","p":1.6914,"s":"1.0666","k":"b"},
{"t":"2023-02-16T02:00","p":1.6914,"s":"H","k":"w"},
{"t":"2023-02-16T02:39","p":1.6914,"s":"1.1027","k":"b"},
{"t":"2023-02-16T05:59","p":1.6914,"s":"L","k":"w"},
{"t":"2023-02-16T06:30","p":1.6914,"s":"1.0666","k":"b"},
{"t":"2023-02-16T09:50","p":1.6914,"s":"C","k":"w"},
{"t":"2023-02-16T10:29","p":1.6914,"s":"1.0945","k":"b"},
{"t":"2023-02-15T11:29","p":1.667,"s":"Smart Money Concepts [LuxAlgo]","k":"w"},
{"t":"2023-02-15T11:29","p":1.6427,"s":"Vol · USDT","k":"w"},
{"t":"2023-02-21T14:57","p":1.0977,"s":"1.0945","k":"x"},
{"t":"2023-02-21T14:57","p":1.0733,"s":"01:44","k":"x"}
],
"obs":[
{"t":"2023-02-15T14:40","v":0,"b":0,"g":"a","k":"ob"},{"t":"2023-02-15T14:57","v":100,"b":0,"g":"a","k":"ob"},{"t":"2023-02-15T15:36","v":107,"b":0,"g":"a","k":"ob"},{"t":"2023-02-15T15:59","v":100,"b":0,"g":"a","k":"ob"},{"t":"2023-02-15T16:10","v":0,"b":0,"g":"a","k":"ob"},
{"t":"2023-02-15T17:16","v":0,"b":0,"g":"b","k":"ob"},{"t":"2023-02-15T17:31","v":85,"b":0,"g":"b","k":"ob"},{"t":"2023-02-15T17:47","v":0,"b":0,"g":"b","k":"ob"},
{"t":"2023-02-16T01:45","v":0,"b":0,"g":"c","k":"ob"},{"t":"2023-02-16T02:00","v":90,"b":0,"g":"c","k":"ob"},{"t":"2023-02-16T02:16","v":0,"b":0,"g":"c","k":"ob"},
{"t":"2023-02-18T04:06","v":0,"b":0,"g":"d","k":"ob"},{"t":"2023-02-18T04:21","v":85,"b":0,"g":"d","k":"ob"},{"t":"2023-02-18T04:37","v":0,"b":0,"g":"d","k":"ob"},
{"t":"2023-02-18T10:47","v":0,"b":0,"g":"e","k":"ob"},{"t":"2023-02-18T11:02","v":82,"b":0,"g":"e","k":"ob"},{"t":"2023-02-18T11:18","v":0,"b":0,"g":"e","k":"ob"},
{"t":"2023-02-19T00:31","v":0,"b":0,"g":"f","k":"ob"},{"t":"2023-02-19T00:54","v":60,"b":0,"g":"f","k":"ob"},{"t":"2023-02-19T01:33","v":100,"b":0,"g":"f","k":"ob"},{"t":"2023-02-19T02:11","v":107,"b":0,"g":"f","k":"ob"},{"t":"2023-02-19T02:50","v":98,"b":0,"g":"f","k":"ob"},{"t":"2023-02-19T03:28","v":104,"b":0,"g":"f","k":"ob"},{"t":"2023-02-19T04:07","v":95,"b":0,"g":"f","k":"ob"},{"t":"2023-02-19T04:45","v":70,"b":0,"g":"f","k":"ob"},{"t":"2023-02-19T05:01","v":0,"b":0,"g":"f","k":"ob"},
{"t":"2023-02-19T06:26","v":0,"b":0,"g":"g","k":"ob"},{"t":"2023-02-19T06:41","v":80,"b":0,"g":"g","k":"ob"},{"t":"2023-02-19T06:57","v":0,"b":0,"g":"g","k":"ob"},
{"t":"2023-02-15T16:25","v":0,"b":0,"g":"h","k":"ob"},{"t":"2023-02-15T16:37","v":6,"b":0,"g":"h","k":"ob"},{"t":"2023-02-15T16:49","v":0,"b":0,"g":"h","k":"ob"},
{"t":"2023-02-16T03:36","v":0,"b":0,"g":"i","k":"ob"},{"t":"2023-02-16T03:48","v":6,"b":0,"g":"i","k":"ob"},{"t":"2023-02-16T04:00","v":0,"b":0,"g":"i","k":"ob"},
{"t":"2023-02-17T14:55","v":0,"b":0,"g":"j","k":"ob"},{"t":"2023-02-17T15:07","v":6,"b":0,"g":"j","k":"ob"},{"t":"2023-02-17T15:19","v":0,"b":0,"g":"j","k":"ob"},
{"t":"2023-02-19T17:28","v":0,"b":0,"g":"k","k":"ob"},{"t":"2023-02-19T17:40","v":20,"b":0,"g":"k","k":"ob"},{"t":"2023-02-19T17:52","v":0,"b":0,"g":"k","k":"ob"},
{"t":"2023-02-21T00:16","v":0,"b":0,"g":"l","k":"ob"},{"t":"2023-02-21T00:28","v":8,"b":0,"g":"l","k":"ob"},{"t":"2023-02-21T00:40","v":0,"b":0,"g":"l","k":"ob"},
{"t":"2023-02-16T19:59","v":107,"b":107,"g":"m","k":"os"},{"t":"2023-02-16T20:14","v":85,"b":107,"g":"m","k":"os"},{"t":"2023-02-16T20:30","v":107,"b":107,"g":"m","k":"os"},
{"t":"2023-02-21T11:25","v":24,"b":95,"g":"n","k":"os"},{"t":"2023-02-21T11:50","v":24,"b":95,"g":"n","k":"os"}
],
"lv":[
{"t":"2023-02-15T10:58","v":2,"k":"ob"},{"t":"2023-02-15T14:42","v":2,"k":"ob"},{"t":"2023-02-15T15:20","v":85,"k":"ob"},{"t":"2023-02-15T15:59","v":79,"k":"ob"},{"t":"2023-02-15T17:16","v":79,"k":"ob"},{"t":"2023-02-15T17:39","v":74,"k":"ob"},{"t":"2023-02-21T11:37","v":74,"k":"ob"},
{"t":"2023-02-15T10:58","v":18,"k":"os"},{"t":"2023-02-16T19:59","v":18,"k":"os"},{"t":"2023-02-16T20:14","v":24,"k":"os"},{"t":"2023-02-21T11:37","v":24,"k":"os"}
],
"rt":[
{"t":"2023-02-15T15:20","t2":"2023-02-21T13:56","v":85.4,"v2":76.8},
{"t":"2023-02-19T15:41","t2":"2023-02-21T12:54","v":35.4,"v2":69.5}
],
"tb":[
{"t":"2023-02-21T02:58","t2":"2023-02-21T09:08","v":79.3,"v2":91.5,"k":"ob"},
{"t":"2023-02-21T09:08","t2":"2023-02-21T13:56","v":79.3,"v2":91.5,"k":"os"}
],
"tt":[
{"t":"2023-02-21T06:05","v":101,"s":"Overbought","k":"h"},
{"t":"2023-02-21T11:29","v":101,"s":"Oversold","k":"h"},
{"t":"2023-02-21T06:05","v":85.4,"s":"0 %","k":"ob"},
{"t":"2023-02-21T11:29","v":85.4,"s":"62.5 %","k":"os"}
],
"sep":[{"t":"2023-02-21T14:19","a":-4.9,"b":114.6}]
},
"vconcat":[
{
"width":1189,"height":451,
"encoding":{"x":{"field":"t","type":"temporal","scale":{"domain":[{"year":2023,"month":2,"date":15,"hours":10,"minutes":58},{"year":2023,"month":2,"date":21,"hours":19,"minutes":43}],"nice":false},"axis":null}},
"layer":[
{"data":{"name":"c"},"mark":{"type":"bar","size":3,"opacity":0.5},
 "encoding":{"y":{"field":"q","type":"quantitative","scale":{"domain":[0,4510]},"axis":null},
  "color":{"condition":{"test":"datum.c >= datum.o","value":"#26a69a"},"value":"#ef5350"}}},
{"data":{"name":"zone"},"mark":{"type":"rect","strokeWidth":1},
 "encoding":{"x2":{"field":"t2"},"y":{"field":"p","type":"quantitative","scale":{"domain":[0.621,1.718],"nice":false,"zero":false},"axis":null},"y2":{"field":"p2"},
  "color":{"field":"k","type":"nominal","legend":null,"scale":{"domain":["g","r1","r2","r3","g2","g3","r4","w","box"],"range":["#55615e","#2d141c","#44202d","#3a1826","#7f8b88","#6e6066","#55273a","#b7b7b7","#00bcd4"]}},
  "stroke":{"field":"k","type":"nominal","legend":null,"scale":{"domain":["g","r1","r2","r3","g2","g3","r4","w","box"],"range":["#8c9c84","#3e1c28","#7a2a45","#4a2030","#8f9b98","#7e6a72","#6a3045","#b7b7b7","#00bcd4"]}}}},
{"data":{"values":[{"t":"2023-02-15T10:58","t2":"2023-02-21T14:19","p":1.0945}]},"mark":{"type":"rule","color":"#00bcd4","strokeWidth":2.8,"strokeDash":[0.1,7.3],"strokeCap":"round"},
 "encoding":{"x2":{"field":"t2"},"y":{"field":"p","type":"quantitative","scale":{"domain":[0.621,1.718],"nice":false,"zero":false},"axis":null}}},
{"data":{"name":"seg"},"mark":{"type":"rule","strokeWidth":1},
 "encoding":{"x2":{"field":"t2"},"y":{"field":"p","type":"quantitative","scale":{"domain":[0.621,1.718],"nice":false,"zero":false},"axis":null},
  "color":{"field":"k","type":"nominal","legend":null,"scale":{"domain":["ts","td","cd","cs","pl"],"range":["#089aab","#089aab","#b3184f","#b3184f","#c2185b"]}},
  "strokeDash":{"field":"k","type":"nominal","legend":null,"scale":{"domain":["ts","td","cd","cs","pl"],"range":[[1,0],[3,2],[3,2],[1,0],[1,0]]}}}},
{"data":{"name":"tr"},"mark":{"type":"rule","color":"#e0e0e0","strokeWidth":1.6},
 "encoding":{"x2":{"field":"t2"},"y":{"field":"p","type":"quantitative","scale":{"domain":[0.621,1.718],"nice":false,"zero":false},"axis":null},"y2":{"field":"p2"}}},
{"data":{"name":"c"},"mark":{"type":"rule","strokeWidth":1},
 "encoding":{"y":{"field":"l","type":"quantitative","scale":{"domain":[0.621,1.718],"nice":false,"zero":false},"title":"USDT",
  "axis":{"orient":"right","values":[0.65,0.7,0.75,0.8,0.85,0.9,0.95,1,1.05,1.15,1.2,1.25,1.3,1.35,1.4,1.45,1.5,1.55,1.6,1.65],"format":".4f","labelPadding":-35,"labelAlign":"left","labelBaseline":"middle","titleAngle":0,"titleAlign":"left","titleBaseline":"top","titleX":-35,"titleY":4}},
  "y2":{"field":"h"},
  "color":{"condition":{"test":"datum.c >= datum.o","value":"#00bcd4"},"value":"#e91e63"}}},
{"data":{"name":"c"},"mark":{"type":"bar","size":3},
 "encoding":{"y":{"field":"o","type":"quantitative","scale":{"domain":[0.621,1.718],"nice":false,"zero":false},"axis":null},"y2":{"field":"c"},
  "color":{"condition":{"test":"datum.c >= datum.o","value":"#00bcd4"},"value":"#e91e63"}}},
{"data":{"name":"lab"},"mark":{"type":"text","fontSize":5.5,"font":"Roboto"},
 "encoding":{"y":{"field":"p","type":"quantitative","scale":{"domain":[0.621,1.718],"nice":false,"zero":false},"axis":null},"text":{"field":"s"},"color":{"field":"k","type":"nominal","legend":null,"scale":{"domain":["t","c"],"range":["#00a5b8","#c2185b"]}}}},
{"data":{"name":"hd"},"mark":{"type":"text","fontSize":7.2,"font":"Roboto","align":"left","baseline":"middle"},
 "encoding":{"y":{"field":"p","type":"quantitative","scale":{"domain":[0.621,1.718],"nice":false,"zero":false},"axis":null},"text":{"field":"s"},"color":{"field":"k","type":"nominal","legend":null,"scale":{"domain":["w","b","x"],"range":["#d1d4dc","#00bcd4","#ffffff"]}}}},
{"data":{"name":"sep"},"mark":{"type":"rule","color":"#2a2e39","strokeWidth":1},"encoding":{}}
],
"resolve":{"scale":{"y":"independent","color":"independent","stroke":"independent","strokeDash":"independent"}}
},
{
"width":1189,"height":98,
"encoding":{"x":{"field":"t","type":"temporal","scale":{"domain":[{"year":2023,"month":2,"date":15,"hours":10,"minutes":58},{"year":2023,"month":2,"date":21,"hours":19,"minutes":43}],"nice":false},"axis":null}},
"layer":[
{"data":{"values":[{"t":"2023-02-15T17:39","t2":"2023-02-21T11:37","v":24,"v2":74}]},
 "mark":{"type":"rect","fill":{"gradient":"linear","x1":0,"y1":0,"x2":1,"y2":0,"stops":[{"offset":0,"color":"#090b22"},{"offset":0.3,"color":"#060716"},{"offset":0.5,"color":"#050505"},{"offset":0.68,"color":"#110d06"},{"offset":1,"color":"#1a1408"}]}},
 "encoding":{"x2":{"field":"t2"},"y":{"field":"v","type":"quantitative","scale":{"domain":[-4.9,114.6],"nice":false,"zero":false},"axis":null},"y2":{"field":"v2"}}},
{"data":{"values":[{"t":"2023-02-15T10:58","t2":"2023-02-15T14:42","v":2,"v2":18}]},"mark":{"type":"rect","color":"#1f1708"},
 "encoding":{"x2":{"field":"t2"},"y":{"field":"v","type":"quantitative","scale":{"domain":[-4.9,114.6],"nice":false,"zero":false},"axis":null},"y2":{"field":"v2"}}},
{"data":{"values":[{"t":"2023-02-15T10:58","t2":"2023-02-21T14:19","v":50}]},"mark":{"type":"rule","color":"#3a3e4a","strokeDash":[1,3]},
 "encoding":{"x2":{"field":"t2"},"y":{"field":"v","type":"quantitative","scale":{"domain":[-4.9,114.6],"nice":false,"zero":false},"axis":null}}},
{"data":{"name":"obs"},"mark":{"type":"area","interpolate":"linear"},
 "encoding":{"y":{"field":"v","type":"quantitative","scale":{"domain":[-4.9,114.6],"nice":false,"zero":false},"axis":null,"stack":null},"y2":{"field":"b"},"detail":{"field":"g"},
  "color":{"field":"k","type":"nominal","legend":null,"scale":{"domain":["ob","os"],"range":["#17707a","#8c1c3f"]}}}},
{"data":{"name":"lv"},"mark":{"type":"line","strokeWidth":1.5},
 "encoding":{"y":{"field":"v","type":"quantitative","scale":{"domain":[-4.9,114.6],"nice":false,"zero":false},"axis":null},
  "color":{"field":"k","type":"nominal","legend":null,"scale":{"domain":["ob","os"],"range":["#1fb5c4","#c2185b"]}}}},
{"data":{"name":"rt"},"mark":{"type":"rule","color":"#e8e8e8","strokeWidth":1.5},
 "encoding":{"x2":{"field":"t2"},"y":{"field":"v","type":"quantitative","scale":{"domain":[-4.9,114.6],"nice":false,"zero":false},"axis":null},"y2":{"field":"v2"}}},
{"data":{"name":"c"},"mark":{"type":"line","strokeWidth":1,"stroke":{"gradient":"linear","x1":0,"y1":0,"x2":0,"y2":1,"stops":[{"offset":0,"color":"#3146ff"},{"offset":0.4,"color":"#4657e0"},{"offset":0.49,"color":"#8a8cc8"},{"offset":0.56,"color":"#c9b7a6"},{"offset":0.64,"color":"#d49a55"},{"offset":1,"color":"#ff9800"}]}},
 "encoding":{"y":{"field":"v","type":"quantitative","scale":{"domain":[-4.9,114.6],"nice":false,"zero":false},"title":null,
  "axis":{"orient":"right","values":[0,25,50,75,100],"format":".4f","labelPadding":-35,"labelAlign":"left","labelBaseline":"middle"}}}},
{"data":{"name":"tb"},"mark":{"type":"rect"},
 "encoding":{"x2":{"field":"t2"},"y":{"field":"v","type":"quantitative","scale":{"domain":[-4.9,114.6],"nice":false,"zero":false},"axis":null},"y2":{"field":"v2"},"color":{"field":"k","type":"nominal","legend":null,"scale":{"domain":["ob","os"],"range":["#0f3c3c","#4f1a20"]}}}},
{"data":{"name":"tt"},"mark":{"type":"text","fontSize":8,"font":"Roboto"},
 "encoding":{"y":{"field":"v","type":"quantitative","scale":{"domain":[-4.9,114.6],"nice":false,"zero":false},"axis":null},"text":{"field":"s"},"color":{"field":"k","type":"nominal","legend":null,"scale":{"domain":["h","ob","os"],"range":["#787b86","#26a69a","#ef5350"]}}}},
{"data":{"values":[{"t":"2023-02-15T11:29","v":107.3,"s":"RSI Multi Length [LuxAlgo]"}]},"mark":{"type":"text","fontSize":7.2,"font":"Roboto","align":"left","color":"#d1d4dc"},
 "encoding":{"y":{"field":"v","type":"quantitative","scale":{"domain":[-4.9,114.6],"nice":false,"zero":false},"axis":null},"text":{"field":"s"}}},
{"data":{"name":"sep"},"mark":{"type":"rule","color":"#2a2e39"},
 "encoding":{"y":{"field":"a","type":"quantitative","scale":{"domain":[-4.9,114.6],"nice":false,"zero":false},"axis":null},"y2":{"field":"b"}}}
],
"resolve":{"scale":{"color":"independent"}}
},
{
"width":1189,"height":13,
"data":{"name":"sep"},
"mark":{"type":"rule","color":"#2a2e39"},
"encoding":{"x":{"field":"t","type":"temporal","scale":{"domain":[{"year":2023,"month":2,"date":15,"hours":10,"minutes":58},{"year":2023,"month":2,"date":21,"hours":19,"minutes":43}],"nice":false},
 "axis":{"orient":"bottom","values":[{"year":2023,"month":2,"date":15,"hours":12},{"year":2023,"month":2,"date":15,"hours":18},{"year":2023,"month":2,"date":16,"hours":0},{"year":2023,"month":2,"date":16,"hours":6},{"year":2023,"month":2,"date":16,"hours":12},{"year":2023,"month":2,"date":16,"hours":18},{"year":2023,"month":2,"date":17,"hours":0},{"year":2023,"month":2,"date":17,"hours":6},{"year":2023,"month":2,"date":17,"hours":12},{"year":2023,"month":2,"date":17,"hours":18},{"year":2023,"month":2,"date":18,"hours":0},{"year":2023,"month":2,"date":18,"hours":6},{"year":2023,"month":2,"date":18,"hours":12},{"year":2023,"month":2,"date":18,"hours":18},{"year":2023,"month":2,"date":19,"hours":0},{"year":2023,"month":2,"date":19,"hours":6},{"year":2023,"month":2,"date":19,"hours":12},{"year":2023,"month":2,"date":19,"hours":18},{"year":2023,"month":2,"date":20,"hours":0},{"year":2023,"month":2,"date":20,"hours":6},{"year":2023,"month":2,"date":20,"hours":12},{"year":2023,"month":2,"date":20,"hours":18},{"year":2023,"month":2,"date":21,"hours":0},{"year":2023,"month":2,"date":21,"hours":6},{"year":2023,"month":2,"date":21,"hours":12}],
  "labelExpr":"hours(datum.value) === 0 ? timeFormat(datum.value, '%-d') : timeFormat(datum.value, '%H:%M')","labelPadding":-11,"labelBaseline":"middle","labelFlush":false,"labelOverlap":false,"labelFontSize":8,
  "title":"TradingView","titleAnchor":"start","titleAlign":"left","titleBaseline":"middle","titleX":12,"titleY":11,"titleColor":"#d1d4dc","titleFontWeight":"bold","titleFontSize":8.5}}}
}
]
}
